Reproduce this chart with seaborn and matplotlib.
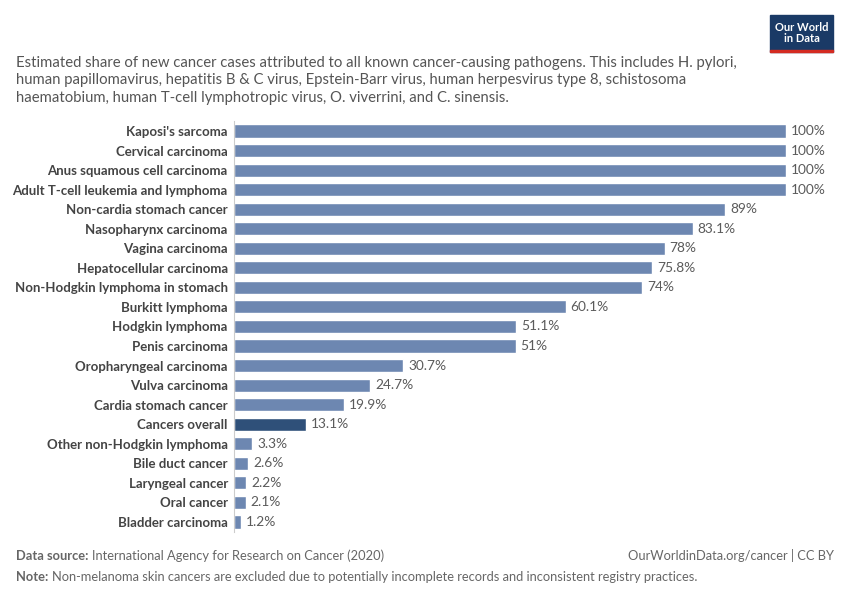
import matplotlib.pyplot as plt
import seaborn as sns
import pandas as pd
from matplotlib.patches import Rectangle

cancers = ["Kaposi's sarcoma", "Cervical carcinoma", "Anus squamous cell carcinoma",
           "Adult T-cell leukemia and lymphoma", "Non-cardia stomach cancer",
           "Nasopharynx carcinoma", "Vagina carcinoma", "Hepatocellular carcinoma",
           "Non-Hodgkin lymphoma in stomach", "Burkitt lymphoma", "Hodgkin lymphoma",
           "Penis carcinoma", "Oropharyngeal carcinoma", "Vulva carcinoma",
           "Cardia stomach cancer", "Cancers overall", "Other non-Hodgkin lymphoma",
           "Bile duct cancer", "Laryngeal cancer", "Oral cancer", "Bladder carcinoma"]
shares = [100, 100, 100, 100, 89, 83.1, 78, 75.8, 74, 60.1, 51.1, 51, 30.7, 24.7,
          19.9, 13.1, 3.3, 2.6, 2.2, 2.1, 1.2]
highlight = "Cancers overall"

df = pd.DataFrame({"cancer": cancers, "share": shares})
df["group"] = ["overall" if c == highlight else "other" for c in df["cancer"]]

sns.set_style("white")
plt.rcParams['font.family'] = ['Lato', 'DejaVu Sans']

fig = plt.figure(figsize=(8.5, 6), dpi=100)
ax = fig.add_axes([0.2753, 0.1137, 0.6494, 0.6843])

sns.barplot(data=df, x="share", y="cancer", hue="group", dodge=False,
            palette={"other": "#6d87b1", "overall": "#2f5079"},
            width=0.67, legend=False, ax=ax, saturation=1)

ax.set_xlim(0, 100)
ax.set_ylim(len(cancers) - 0.5, -0.5)
ax.set_xlabel("")
ax.set_ylabel("")
ax.set_xticks([])
for s in ["top", "right", "bottom"]:
    ax.spines[s].set_visible(False)
ax.spines["left"].set_color("#cccccc")
ax.spines["left"].set_linewidth(0.8)
ax.tick_params(axis="y", length=0, pad=4.5)
for lab in ax.get_yticklabels():
    lab.set_fontsize(9.55)
    lab.set_fontweight("bold")
    lab.set_color("#444444")

for i, v in enumerate(shares):
    txt = f"{v:g}%"
    ax.text(v + 0.9, i, txt, va="center", ha="left", fontsize=9.9,
            color="#5b5b5b", clip_on=False)

title = ("Estimated share of new cancer cases attributed to all known cancer-causing pathogens. This includes H. pylori,\n"
         "human papillomavirus, hepatitis B & C virus, Epstein-Barr virus, human herpesvirus type 8, schistosoma\n"
         "haematobium, human T-cell lymphotropic virus, O. viverrini, and C. sinensis.")
fig.text(16 / 850, 1 - 56 / 600, title, fontsize=10.7, color="#555555",
         va="top", ha="left", linespacing=1.3)

# logo
fig.patches.append(Rectangle((770 / 850, 1 - 52 / 600), 63 / 850, 37 / 600,
                             transform=fig.transFigure, color="#1a3a66", zorder=3))
fig.patches.append(Rectangle((770 / 850, 1 - 52 / 600), 63 / 850, 2.5 / 600,
                             transform=fig.transFigure, color="#d42b21", zorder=4))
fig.text(801.5 / 850, 1 - 33 / 600, "Our World\nin Data", fontsize=8, color="white",
         ha="center", va="center", fontweight="bold", linespacing=1.0, zorder=5)

fs = 9.3
fig.text(16 / 850, 1 - 556 / 600, "Data source:", fontsize=fs, color="#666666",
         fontweight="bold", va="center", ha="left")
fig.text(92 / 850, 1 - 556 / 600, "International Agency for Research on Cancer (2020)",
         fontsize=fs, color="#666666", va="center", ha="left")
fig.text(834 / 850, 1 - 556 / 600, "OurWorldinData.org/cancer | CC BY", fontsize=fs,
         color="#666666", va="center", ha="right")
fig.text(16 / 850, 1 - 577 / 600, "Note:", fontsize=fs, color="#666666",
         fontweight="bold", va="center", ha="left")
fig.text(52 / 850, 1 - 577 / 600,
         "Non-melanoma skin cancers are excluded due to potentially incomplete records and inconsistent registry practices.",
         fontsize=fs, color="#666666", va="center", ha="left")

fig.savefig("out.png", dpi=100)
